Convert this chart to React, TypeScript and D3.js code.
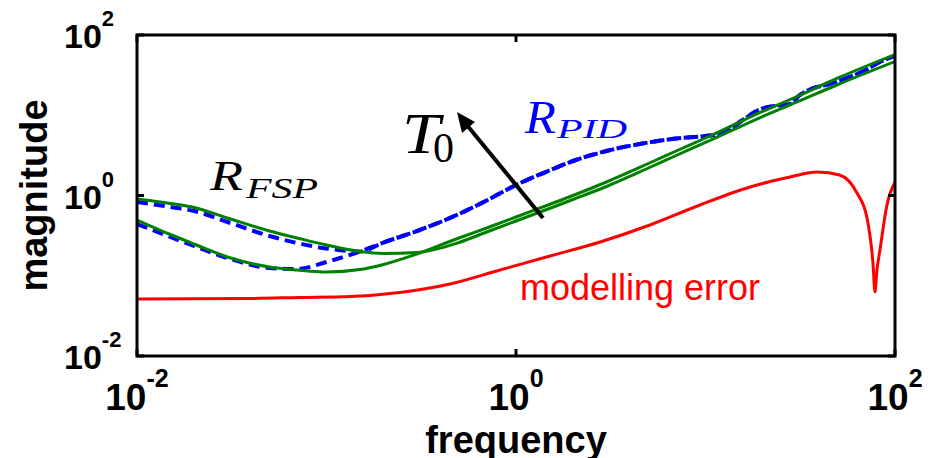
import React from 'react'
import * as d3 from 'd3'

// frequency grid shared by the two green (R_FSP) curves
const fspFreq = [0.01, 0.015, 0.02, 0.03, 0.05, 0.07, 0.1, 0.15, 0.2, 0.3, 0.5, 0.7, 1, 1.5, 2, 3, 5, 7, 10, 20, 30, 50, 100]
const fspHigh = [0.904, 0.795, 0.709, 0.524, 0.361, 0.2954, 0.2416, 0.2005, 0.1894, 0.1949, 0.2596, 0.3509, 0.4812, 0.6886, 0.892, 1.295, 2.201, 3.151, 4.576, 9.647, 14.42, 24.16, 46.75]
const fspLow = [0.495, 0.3266, 0.2486, 0.1713, 0.1285, 0.1179, 0.1113, 0.1196, 0.1381, 0.1866, 0.2954, 0.3936, 0.5397, 0.7726, 1.0, 1.473, 2.505, 3.585, 5.206, 11.14, 16.88, 29.12, 57.15]

// blue dashed R_PID curves (two low-frequency branches, common above 0.15)
const pidFreq = [0.01, 0.015, 0.02, 0.03, 0.05, 0.07, 0.1, 0.15, 0.2, 0.3, 0.5, 0.7, 1, 1.5, 2, 3, 5, 7, 10, 12, 16, 19, 23, 28, 31, 36, 43, 54, 70, 83, 100]
const pidCommon = [0.2005, 0.2596, 0.361, 0.588, 0.866, 1.351, 2.049, 2.691, 3.585, 4.576, 5.132, 5.512, 5.84, 8.98, 11.63, 13.04, 13.81, 17.37, 21.24, 23.82, 28.29, 36.64, 46.08, 54.73]
const pidHigh = [0.83, 0.719, 0.641, 0.4675, 0.3129, 0.256, 0.2186, ...pidCommon]
const pidLow = [0.4415, 0.3041, 0.2348, 0.1664, 0.1249, 0.1214, 0.1483, ...pidCommon]

// red modelling error
const errFreq = [0.01, 0.04, 0.072, 0.133, 0.244, 0.448, 0.823, 1.51, 2.78, 5.09, 9.35, 17.2, 27.9, 39, 51, 63, 71, 76.5, 78.4, 80.3, 83.3, 90.7, 100]
const errMag = [0.0513, 0.0521, 0.0536, 0.0551, 0.0618, 0.0789, 0.1179, 0.1762, 0.2634, 0.429, 0.7615, 1.276, 1.7, 1.962, 1.801, 1.074, 0.5397, 0.1442, 0.0627, 0.1179, 0.2094, 0.7615, 1.473]

const xTicks = [0.01, 1, 100]
const xTickExp = ['-2', '0', '2']
const yTicks = [100, 1, 0.01]
const yTickExp = ['2', '0', '-2']

const W = 935
const H = 458
const m = { left: 137, right: 895, top: 35, bottom: 356 }

export default function App() {
  const x = d3.scaleLog().domain([1e-2, 1e2]).range([m.left, m.right])
  const y = d3.scaleLog().domain([1e-2, 1e2]).range([m.bottom, m.top])
  const line = (fr: number[], mag: number[]) =>
    d3.line<number>().x((_, i) => x(fr[i])).y(d => y(d)).curve(d3.curveMonotoneX)(mag) ?? ''

  const sans = 'Liberation Sans, Arial, sans-serif'
  const serif = 'Liberation Serif, Times New Roman, serif'

  return (
    <svg width={W} height={H} style={{ position: 'absolute', left: 0, top: 0, background: '#fff' }}>
      <defs>
        <clipPath id="plot">
          <rect x={m.left} y={m.top} width={m.right - m.left} height={m.bottom - m.top} />
        </clipPath>
      </defs>
      <g clipPath="url(#plot)" fill="none">
        <path d={line(errFreq, errMag)} stroke="#ff0000" strokeWidth={3} />
        <path d={line(pidFreq, pidHigh)} stroke="#0000ff" strokeWidth={4} strokeDasharray="11 6" />
        <path d={line(pidFreq, pidLow)} stroke="#0000ff" strokeWidth={4} strokeDasharray="11 6" />
        <path d={line(fspFreq, fspHigh)} stroke="#008000" strokeWidth={3} />
        <path d={line(fspFreq, fspLow)} stroke="#008000" strokeWidth={3} />
      </g>

      {/* frame and ticks */}
      <rect x={m.left} y={m.top} width={m.right - m.left} height={m.bottom - m.top} fill="none" stroke="#000" strokeWidth={3} />
      {xTicks.map(t => (
        <g key={'xt' + t}>
          <line x1={x(t)} x2={x(t)} y1={m.bottom} y2={m.bottom - 7} stroke="#000" strokeWidth={3} />
          <line x1={x(t)} x2={x(t)} y1={m.top} y2={m.top + 7} stroke="#000" strokeWidth={3} />
        </g>
      ))}
      {yTicks.map(t => (
        <g key={'yt' + t}>
          <line x1={m.left} x2={m.left + 7} y1={y(t)} y2={y(t)} stroke="#000" strokeWidth={3} />
          <line x1={m.right} x2={m.right - 7} y1={y(t)} y2={y(t)} stroke="#000" strokeWidth={3} />
        </g>
      ))}

      {/* tick labels */}
      {xTicks.map((t, i) => (
        <text key={'xl' + t} x={x(t)} y={410} textAnchor="middle" fontFamily={sans} fontWeight="bold" fontSize={37}>
          10<tspan dy={-23} fontSize={25}>{xTickExp[i]}</tspan>
        </text>
      ))}
      {yTicks.map((t, i) => (
        <text key={'yl' + t} x={64} y={y(t) + 13} fontFamily={sans} fontWeight="bold" fontSize={34}>
          10<tspan dy={-22} fontSize={22}>{yTickExp[i]}</tspan>
        </text>
      ))}

      {/* axis titles */}
      <text x={516} y={453} textAnchor="middle" fontFamily={sans} fontWeight="bold" fontSize={38}>frequency</text>
      <text transform={`translate(47,${(m.top + m.bottom) / 2}) rotate(-90)`} textAnchor="middle" fontFamily={sans} fontWeight="bold" fontSize={38}>magnitude</text>

      {/* annotations */}
      <text x={210} y={190} fontFamily={serif} fontStyle="italic" fontSize={42} textLength={33} lengthAdjust="spacingAndGlyphs">R</text>
      <text x={246} y={198} fontFamily={serif} fontStyle="italic" fontSize={29} textLength={72} lengthAdjust="spacingAndGlyphs">FSP</text>

      <text x={525} y={133} fill="#0000ff" fontFamily={serif} fontStyle="italic" fontSize={46} textLength={31} lengthAdjust="spacingAndGlyphs">R</text>
      <text x={557} y={138} fill="#0000ff" fontFamily={serif} fontStyle="italic" fontSize={27} textLength={70} lengthAdjust="spacingAndGlyphs">PID</text>

      <text x={402} y={153} fontFamily={serif} fontStyle="italic" fontSize={58} textLength={38} lengthAdjust="spacingAndGlyphs">T</text>
      <text x={433} y={162} fontFamily={serif} fontSize={42}>0</text>

      <line x1={543} y1={218} x2={466} y2={124} stroke="#000" strokeWidth={4} />
      <polygon points="457,112 462,133 475,122" fill="#000" />

      <text x={520} y={300} fill="#ff0000" fontFamily={sans} fontSize={36}>modelling error</text>
    </svg>
  )
}
